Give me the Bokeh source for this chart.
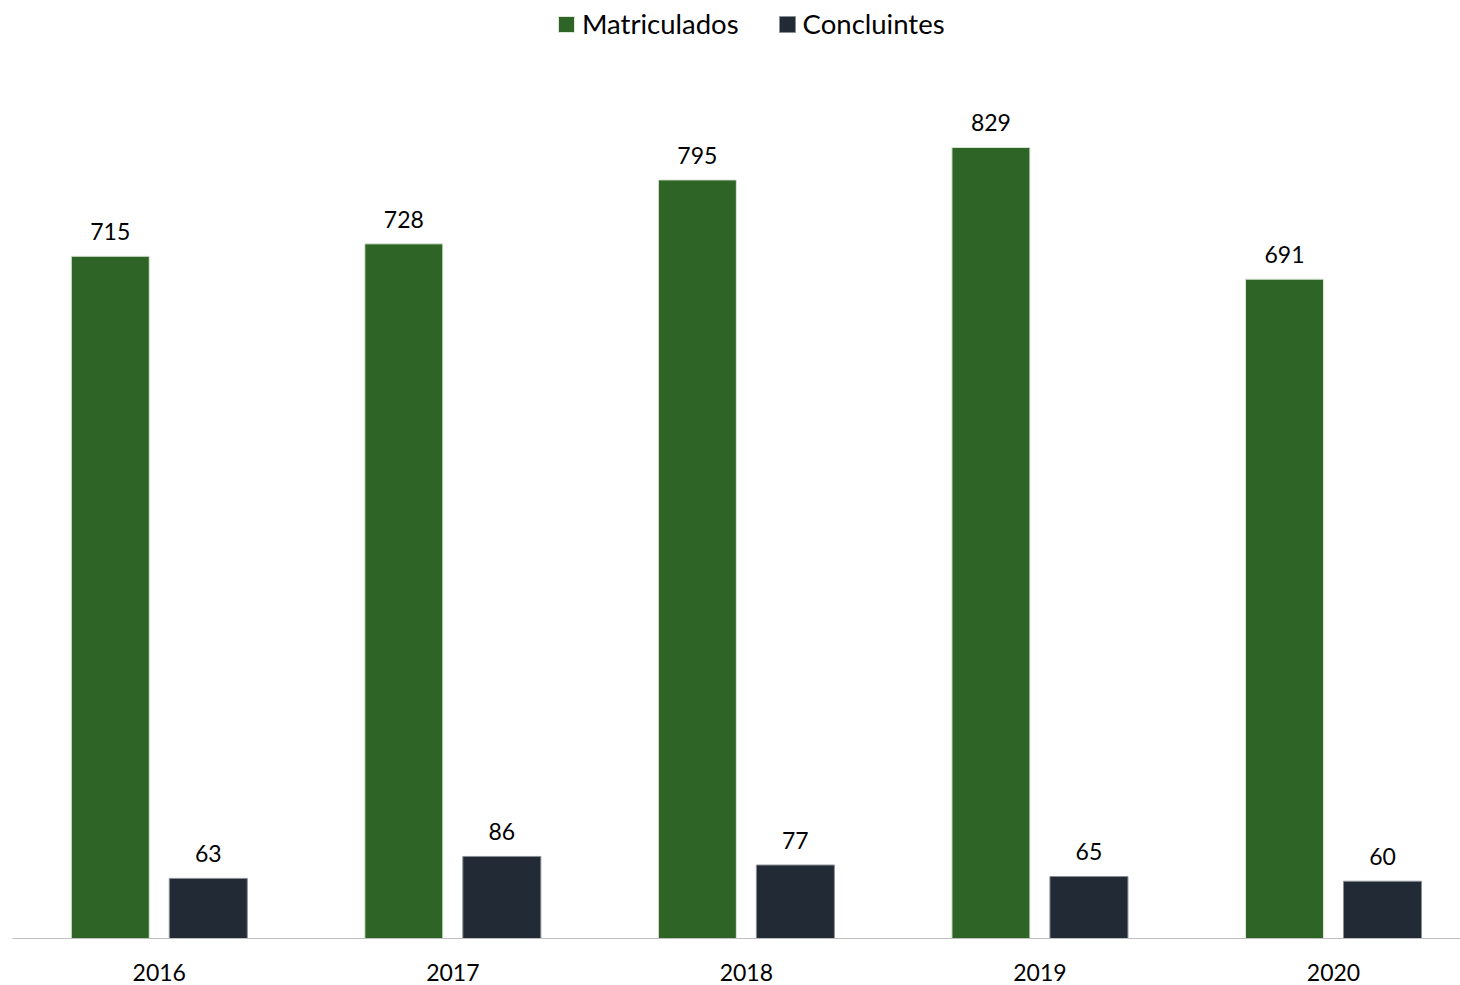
from bokeh.plotting import figure
from bokeh.models import ColumnDataSource, Range1d, FixedTicker, Legend, LegendItem, LabelSet
from bokeh.core.properties import value
from bokeh.embed import file_html
from bokeh.resources import INLINE

years = ["2016", "2017", "2018", "2019", "2020"]
matriculados = [715, 728, 795, 829, 691]
concluintes = [63, 86, 77, 65, 60]

GREEN = "#2F6427"
DARK = "#222A36"
FONT = "Lato"

xs = list(range(len(years)))
off = 49 / 293.5
bw = 78 / 293.5

src_m = ColumnDataSource(dict(x=[i - off for i in xs], top=matriculados,
                              lab=[str(v) for v in matriculados]))
src_c = ColumnDataSource(dict(x=[i + off for i in xs], top=concluintes,
                              lab=[str(v) for v in concluintes]))

p = figure(width=1460, height=985, output_backend="svg", toolbar_location=None,
           x_range=Range1d(-0.5, (1460 - 159) / 293.5), y_range=Range1d(0, 938 / 0.9542),
           min_border_left=12, min_border_right=0, min_border_top=0, min_border_bottom=47)
p.outline_line_color = None
p.grid.visible = False
p.yaxis.visible = False

r_m = p.vbar(x="x", top="top", width=bw, source=src_m, fill_color=GREEN,
             line_color="#DDE8D8", line_width=1)
r_c = p.vbar(x="x", top="top", width=bw, source=src_c, fill_color=DARK,
             line_color="#8A8F96", line_width=1)

for src in (src_m, src_c):
    p.add_layout(LabelSet(x="x", y="top", text="lab", source=src, text_align="center",
                          text_baseline="alphabetic", y_offset=16, text_font=value(FONT),
                          text_font_size=value("23px"), text_color=value("#000000")))

ax = p.xaxis[0]
ax.ticker = FixedTicker(ticks=xs)
ax.major_label_overrides = {i: y for i, y in enumerate(years)}
ax.major_tick_line_color = None
ax.minor_tick_line_color = None
ax.axis_line_color = "#BFBFBF"
ax.axis_line_width = 1
ax.major_label_text_font = FONT
ax.major_label_text_font_size = "23px"
ax.major_label_text_color = "#000000"
ax.major_label_standoff = 19

legend = Legend(items=[LegendItem(label="Matriculados", renderers=[r_m]),
                       LegendItem(label="Concluintes", renderers=[r_c])],
                orientation="horizontal", location=(544, 898),
                label_text_font=FONT, label_text_font_size="27.5px", label_text_color="#000000",
                glyph_width=20, glyph_height=20, spacing=38, padding=2, margin=0,
                label_standoff=6, border_line_color=None, background_fill_alpha=0)
p.add_layout(legend)

open("out.html", "w").write(file_html(p, INLINE))
